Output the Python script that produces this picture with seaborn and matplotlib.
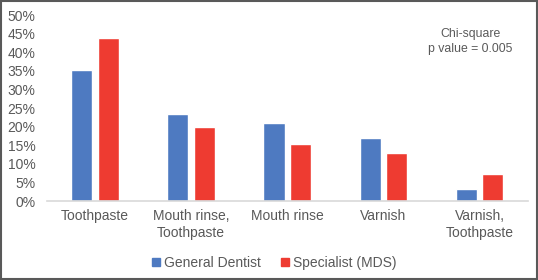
import matplotlib
matplotlib.use("Agg")
import matplotlib.pyplot as plt
import matplotlib.patches as mpatches
import seaborn as sns
import pandas as pd

categories = ["Toothpaste", "Mouth rinse,\nToothpaste", "Mouth rinse", "Varnish", "Varnish,\nToothpaste"]
general_dentist = [35.2, 23.3, 21.0, 16.9, 3.3]
specialist_mds = [43.9, 20.0, 15.3, 13.0, 7.3]
groups = ["General Dentist", "Specialist (MDS)"]
yticks = [0, 5, 10, 15, 20, 25, 30, 35, 40, 45, 50]

df = pd.DataFrame({
    "Category": categories * 2,
    "Value": general_dentist + specialist_mds,
    "Group": [groups[0]] * len(categories) + [groups[1]] * len(categories),
})

palette = {groups[0]: "#4e7ac1", groups[1]: "#ee3b31"}
text_col = "#595959"

sns.set_style("white")
plt.rcParams["font.family"] = ["Liberation Sans", "DejaVu Sans"]

fig = plt.figure(figsize=(5.38, 2.8), dpi=100)
ax = fig.add_axes([0.087, 0.282, 0.894, 0.664])

sns.barplot(data=df, x="Category", y="Value", hue="Group", palette=palette,
            width=0.55, gap=0.2, ax=ax, saturation=1, legend=False)

ax.set_ylim(0, 50)
ax.set_xlim(-0.5, len(categories) - 0.5)
ax.set_yticks(yticks)
ax.set_yticklabels([f"{t}%" for t in yticks])
ax.set_xlabel("")
ax.set_ylabel("")
ax.tick_params(axis="both", length=0, labelsize=10, labelcolor=text_col)
ax.tick_params(axis="y", pad=8)
ax.tick_params(axis="x", pad=6)
for s in ["top", "right", "left"]:
    ax.spines[s].set_visible(False)
ax.spines["bottom"].set_color("#d9d9d9")
ax.spines["bottom"].set_linewidth(1.2)

ax.text(0.88, 0.93, "Chi-square\np value = 0.005", transform=ax.transAxes,
        ha="center", va="top", fontsize=8.8, color=text_col, linespacing=1.35)

handles = [mpatches.Patch(color=palette[g], label=g) for g in groups]
fig.legend(handles=handles, loc="center", bbox_to_anchor=(0.51, 0.06), ncol=2,
           frameon=False, fontsize=10, labelcolor=text_col, handlelength=0.55,
           handleheight=0.55, handletextpad=0.3, columnspacing=1.5)

fig.patches.append(mpatches.Rectangle((0.002, 0.003), 0.996, 0.994, transform=fig.transFigure,
                                      fill=False, edgecolor="#595959", linewidth=1.5))

fig.savefig("out.png", dpi=100)
